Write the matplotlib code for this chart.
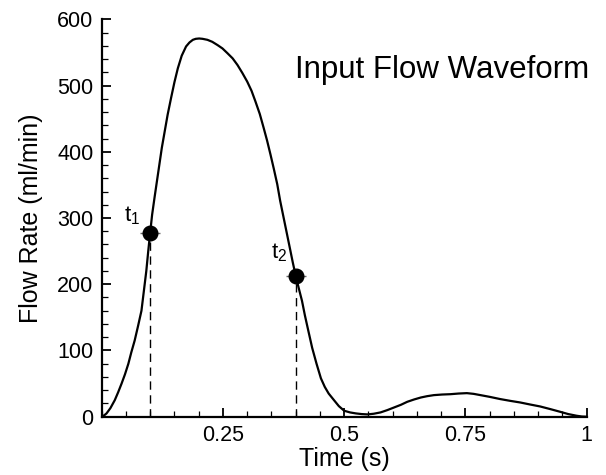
import matplotlib
matplotlib.use("Agg")
import matplotlib.pyplot as plt
from matplotlib.ticker import MultipleLocator, FixedLocator

plt.rcParams['font.family'] = ['Liberation Sans', 'DejaVu Sans']
plt.rcParams['mathtext.fontset'] = 'custom'
plt.rcParams['mathtext.rm'] = 'Liberation Sans'
plt.rcParams['mathtext.it'] = 'Liberation Sans'

# Flow waveform (time s, flow ml/min)
time_s = [0.000, 0.005, 0.010, 0.018, 0.027, 0.034, 0.041, 0.048, 0.055, 0.061,
          0.068, 0.075, 0.082, 0.087, 0.092, 0.096, 0.100, 0.104, 0.109, 0.114,
          0.119, 0.124, 0.130, 0.136, 0.143, 0.150, 0.157, 0.165, 0.174, 0.181,
          0.188, 0.194, 0.201, 0.208, 0.218, 0.228, 0.239, 0.249, 0.259, 0.270,
          0.280, 0.290, 0.300, 0.309, 0.317, 0.326, 0.334, 0.341, 0.348, 0.355,
          0.362, 0.368, 0.375, 0.382, 0.389, 0.394, 0.400, 0.406, 0.413, 0.419,
          0.426, 0.434, 0.443, 0.452, 0.460, 0.468, 0.479, 0.489, 0.500, 0.512,
          0.524, 0.536, 0.548, 0.561, 0.575, 0.589, 0.603, 0.617, 0.630, 0.644,
          0.658, 0.671, 0.685, 0.702, 0.719, 0.736, 0.753, 0.767, 0.781, 0.800,
          0.822, 0.842, 0.863, 0.883, 0.904, 0.925, 0.945, 0.962, 0.979, 0.990,
          1.000]
flow = [0, 2, 5, 13, 25, 37, 50, 64, 80, 97,
        115, 137, 160, 190, 220, 250, 278, 305, 331, 356,
        381, 406, 431, 456, 481, 505, 526, 545, 559, 565,
        569, 570.5, 571, 570.5, 569, 566, 561, 556, 549, 541,
        531, 519, 506, 492, 476, 457, 436, 417, 396, 374,
        351, 326, 301, 276, 251, 233, 213, 195, 175, 153,
        130, 104, 80, 58, 45, 35, 25, 16, 9, 6.5,
        5, 4, 3.5, 4.5, 6.5, 10, 14, 18, 22.5, 26,
        29, 31, 32.6, 33.5, 34, 35, 35.6, 34.5, 32.6, 30,
        26.6, 24, 21.5, 18.5, 15.5, 11.5, 7.5, 4, 1.5, 0.3,
        0]

# Marked instants
mark_t = [0.100, 0.400]
mark_q = [278, 213]
mark_labels = [r'$\mathregular{t_1}$', r'$\mathregular{t_2}$']
label_pos = [(0.063, 303), (0.365, 247)]

x_major = [0.25, 0.5, 0.75, 1.0]
x_major_labels = ['0.25', '0.5', '0.75', '1']
y_major = [0, 100, 200, 300, 400, 500, 600]

fig = plt.figure(figsize=(6.06, 4.75), dpi=100)
ax = fig.add_axes([0.1678, 0.1227, 0.8003, 0.8367])

ax.plot(time_s, flow, color='black', lw=1.6, solid_capstyle='round',
        solid_joinstyle='round')

for t, q in zip(mark_t, mark_q):
    ax.plot([t, t], [0, q], color='black', lw=1.0, ls=(0, (6, 4)))
ax.plot(mark_t, mark_q, ls='none', marker='_', ms=14, mew=1.0, color='#666666')
ax.plot(mark_t, mark_q, ls='none', marker='o', ms=10.5, color='black')

for lab, (lx, ly) in zip(mark_labels, label_pos):
    ax.text(lx, ly, lab, fontsize=16, ha='center', va='center')

ax.text(0.398, 524, 'Input Flow Waveform', fontsize=22.5, ha='left', va='center')

ax.set_xlim(0, 1)
ax.set_ylim(0, 600)
ax.xaxis.set_major_locator(FixedLocator(x_major))
ax.set_xticklabels(x_major_labels)
ax.xaxis.set_minor_locator(MultipleLocator(0.05))
ax.yaxis.set_major_locator(FixedLocator(y_major))
ax.yaxis.set_minor_locator(MultipleLocator(20))

for s in ['top', 'right']:
    ax.spines[s].set_visible(False)
for s in ['left', 'bottom']:
    ax.spines[s].set_linewidth(1.6)

ax.tick_params(which='major', direction='in', length=6.5, width=1.3,
               labelsize=15.5, pad=6)
ax.tick_params(which='minor', direction='in', length=4, width=0.9)

ax.set_xlabel('Time (s)', fontsize=18, labelpad=1)
ax.set_ylabel('Flow Rate (ml/min)', fontsize=18, labelpad=10)

fig.savefig('out.png', dpi=100)
